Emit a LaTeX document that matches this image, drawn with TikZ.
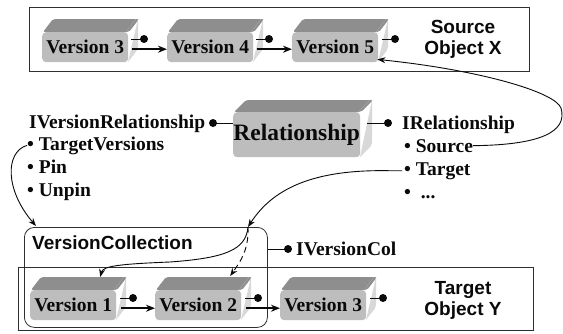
\documentclass[tikz,border=0pt]{standalone}
\usepackage{fontspec}
\setmainfont{Liberation Serif}
\setsansfont{Liberation Sans}
\usetikzlibrary{arrows.meta}
\definecolor{topgrey}{HTML}{8E8E8E}
\definecolor{sidegrey}{HTML}{D8D8D8}
\definecolor{frontgrey}{HTML}{BDBDBD}
\definecolor{ink}{HTML}{0A0A0A}
\tikzset{
  front/.style={fill=frontgrey, rounded corners=4pt, inner sep=0pt, anchor=north west, text=ink,
    font=\bfseries\fontsize{19.5}{22}\selectfont},
  ball/.style={circle, fill=ink, inner sep=0pt, minimum size=8pt},
  stub/.style={draw=ink, line width=0.8pt},
  arr/.style={-{Stealth[length=9pt,width=7pt]}, draw=ink, line width=1.5pt},
  curvearr/.style={-{Stealth[length=8pt,width=6pt]}, draw=ink, line width=0.9pt},
  frame/.style={draw=ink!85, line width=0.8pt, inner sep=0pt, anchor=north west},
  lbl/.style={font=\bfseries\fontsize{19.5}{22}\selectfont, inner sep=0pt, anchor=base west, text=ink},
  sanslbl/.style={font=\sffamily\bfseries\fontsize{19}{21}\selectfont, align=center, inner sep=0pt, text=ink},
}
% #1 name, #2 x, #3 y (top of front face), #4 w, #5 h, #6 dx, #7 dy, #8 text
\newcommand\vblock[8]{%
  \fill[topgrey, rounded corners=2pt] (#2,#3) ++(1pt,0pt) -- ++(#6pt,#7pt) -- ++(#4pt,0pt) -- ++(-#6pt,-#7pt) -- cycle;
  \fill[sidegrey, rounded corners=2pt] (#2,#3) ++(#4pt,0pt) ++(-2pt,0pt) -- ++(#6pt,#7pt) ++(2pt,0pt) -- ++(0pt,-#5pt) -- ++(-#6pt,-#7pt) ++(-2pt,0pt) -- cycle;
  \node[front, minimum width=#4pt, minimum height=#5pt] (#1) at (#2,#3) {#8};
}
\begin{document}
\begin{tikzpicture}[x=1pt,y=-1pt]
\useasboundingbox (0,0) rectangle (563,333);
\fill[white] (0,0) rectangle (563,333);

% frames
\node[frame, minimum width=500pt, minimum height=64pt] (srcframe) at (29,7) {};
\node[frame, minimum width=515pt, minimum height=63pt] (tgtframe) at (18,267) {};
\node[frame, rounded corners=10pt, minimum width=243pt, minimum height=100pt] (vcbox) at (24,227) {};

% source object blocks
\vblock{sv3}{42}{32}{86}{30}{10}{13}{Version 3}
\vblock{sv4}{167}{32}{86}{30}{10}{13}{Version 4}
\vblock{sv5}{292}{32}{86}{30}{10}{13}{Version 5}
% target object blocks
\vblock{tv1}{30}{290}{86}{30}{10}{13}{Version 1}
\vblock{tv2}{155}{290}{86}{30}{10}{13}{Version 2}
\vblock{tv3}{280}{290}{86}{30}{10}{13}{Version 3}
% relationship
\vblock{rel}{233}{112}{127}{45}{12}{12}{\fontsize{23.5}{26}\selectfont Relationship}

% balls on version blocks
\node[ball] (bsv3) at (144,39) {};
\node[ball] (bsv4) at (269,39) {};
\node[ball] (bsv5) at (395,39) {};
\node[ball] (btv1) at (133,298) {};
\node[ball] (btv2) at (258,298) {};
\node[ball] (btv3) at (383,298) {};
\foreach \b in {bsv3,bsv4,bsv5,btv1,btv2,btv3}{\draw[stub] (\b.center) -- ++(-13pt,0pt);}

% chain arrows
\draw[arr] ([xshift=4pt,yshift=-2pt]sv3.east) -- ([yshift=-2pt]sv4.west);
\draw[arr] ([xshift=4pt,yshift=-2pt]sv4.east) -- ([yshift=-2pt]sv5.west);
\draw[arr] ([xshift=5pt,yshift=-3pt]tv1.east) -- ([yshift=-3pt]tv2.west);
\draw[arr] ([xshift=5pt,yshift=-3pt]tv2.east) -- ([yshift=-3pt]tv3.west);

% object labels
\node[sanslbl] (srclbl) at (463,39) {Source\\Object X};
\node[sanslbl] (tgtlbl) at (463,300) {Target\\Object Y};
\node[font=\sffamily\bfseries\fontsize{19}{21}\selectfont, inner sep=0pt, anchor=west, text=ink] (vclbl) at (32,243) {VersionCollection};

% relationship interfaces
\node[ball] (bl) at (213,123) {};
\node[ball] (br) at (388,123) {};
\draw[stub] (bl.center) -- (bl -| rel.west);
\draw[stub] (br.center) -- ([xshift=7pt]rel.east |- br);
\node[lbl] (ivr) at (29,128) {IVersionRelationship};
\node[lbl] (itv) at (27,150) {• TargetVersions};
\node[lbl] (ipin) at (27,173) {• Pin};
\node[lbl] (iunpin) at (27,196) {• Unpin};
\node[lbl] (irel) at (402,129) {IRelationship};
\node[lbl] (isrc) at (404,152) {• Source};
\node[lbl] (itgt) at (404,175) {• Target};
\node[lbl] (idots) at (404,198) {•\ \ ...};

% version collection interface
\node[ball] (bivc) at (288,249) {};
\draw[stub] (bivc.center) -- (vcbox.east |- bivc);
\node[lbl, anchor=west] (ivc) at (296,249) {IVersionCol};

% curves
\coordinate (hub) at (248,227);
\coordinate (v5tip) at ([xshift=-1pt,yshift=3pt]sv5.south east);
\coordinate (v1top) at ([xshift=27pt,yshift=13pt]tv1.north);
\coordinate (v2top) at ([xshift=32pt,yshift=14pt]tv2.north);
\coordinate (vctop) at (36,226);
\draw[curvearr] (isrc.east) .. controls (540,145) and (568,132) .. (561,108)
   .. controls (555,92) and (480,70) .. (v5tip);
\draw[curvearr] (itv.west) .. controls (5,152) and (5,190) .. (vctop);
\draw[curvearr] ([xshift=-2pt]itgt.west) -- ++(-10,0) .. controls (320,169) and (275,185) .. (hub);
\draw[curvearr] (hub) .. controls (246,250) and (225,258) .. (170,262)
   .. controls (120,264) and (103,266) .. (v1top);
\draw[curvearr, dash pattern=on 6pt off 4pt] (hub) .. controls (249,250) and (240,262) .. (v2top);
\end{tikzpicture}
\end{document}
